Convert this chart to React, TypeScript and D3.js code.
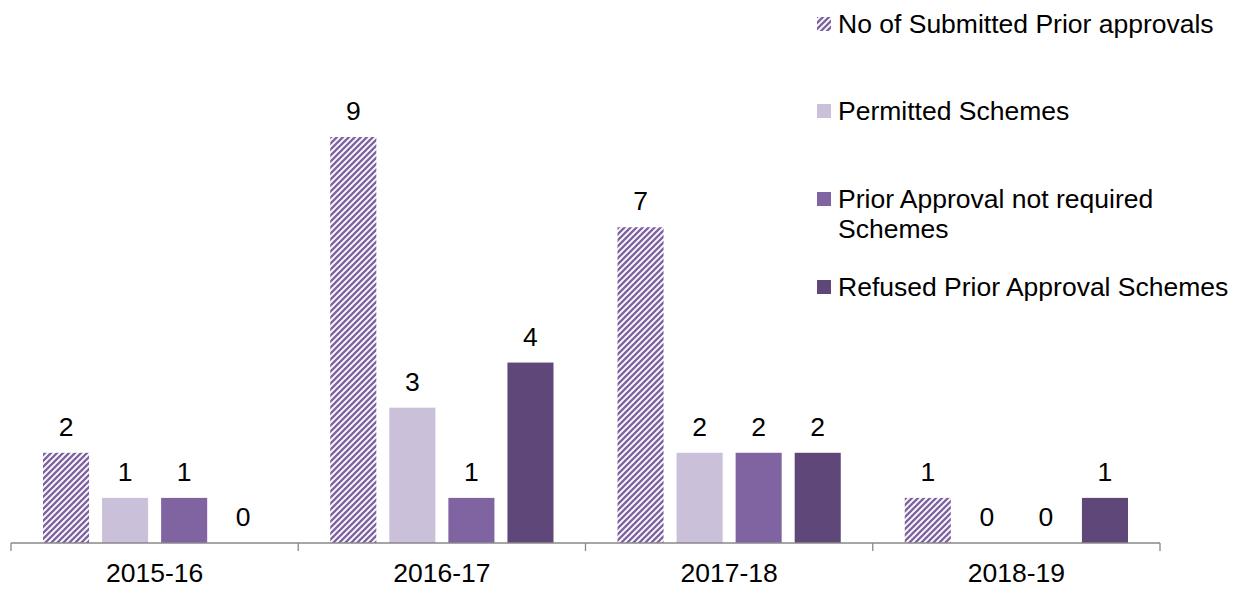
import React, { useRef, useEffect } from "react";
import * as d3 from "d3";

const categories = ["2015-16", "2016-17", "2017-18", "2018-19"];
const seriesNames = [
  "No of Submitted Prior approvals",
  "Permitted Schemes",
  "Prior Approval not required Schemes",
  "Refused Prior Approval Schemes",
];
const submitted = [2, 9, 7, 1];
const permitted = [1, 3, 2, 0];
const notRequired = [1, 1, 2, 0];
const refused = [0, 4, 2, 1];

const seriesValues = [submitted, permitted, notRequired, refused];
const colors = ["url(#hatch)", "#CBC0DA", "#8064A2", "#5F4879"];

const App: React.FC = () => {
  const svgRef = useRef<SVGSVGElement | null>(null);

  useEffect(() => {
    const width = 1247;
    const height = 593;
    const svg = d3.select(svgRef.current);
    svg.selectAll("*").remove();
    svg.attr("width", width).attr("height", height);

    const font = "'Liberation Sans', Arial, sans-serif";
    const fs = "26.5px";

    // hatch pattern
    const defs = svg.append("defs");
    const pat = defs
      .append("pattern")
      .attr("id", "hatch")
      .attr("patternUnits", "userSpaceOnUse")
      .attr("width", 6)
      .attr("height", 6);
    pat.append("rect").attr("width", 6).attr("height", 6).attr("fill", "#fff");
    pat
      .append("path")
      .attr("d", "M-1,1 L1,-1 M0,6 L6,0 M5,7 L7,5")
      .attr("stroke", "#8064A2")
      .attr("stroke-width", 2.4);

    const x0 = d3.scaleBand().domain(categories).range([11, 1160]).paddingInner(0).paddingOuter(0);
    const x1 = d3
      .scaleBand()
      .domain(seriesNames)
      .range([32, x0.bandwidth() - 32])
      .paddingInner(0.22);
    const y = d3.scaleLinear().domain([0, 9]).range([543, 137]);

    const g = svg.append("g");

    categories.forEach((cat, ci) => {
      seriesNames.forEach((s, si) => {
        const v = seriesValues[si][ci];
        const bx = x0(cat)! + x1(s)!;
        if (v > 0) {
          g.append("rect")
            .attr("x", bx)
            .attr("y", y(v))
            .attr("width", x1.bandwidth())
            .attr("height", y(0) - y(v))
            .attr("fill", colors[si]);
        }
        g.append("text")
          .attr("x", bx + x1.bandwidth() / 2)
          .attr("y", y(v) - 17)
          .attr("text-anchor", "middle")
          .style("font-family", font)
          .style("font-size", fs)
          .style("fill", "#000")
          .text(v);
      });
    });

    // axis
    const axis = svg.append("g").attr("transform", `translate(0,${y(0)})`);
    axis
      .append("line")
      .attr("x1", 11)
      .attr("x2", 1160)
      .attr("stroke", "#898989")
      .attr("stroke-width", 1.3);
    const ticks = [...categories.map((c) => x0(c)!), 1160];
    ticks.forEach((t) => {
      axis
        .append("line")
        .attr("x1", t)
        .attr("x2", t)
        .attr("y1", 0)
        .attr("y2", 8)
        .attr("stroke", "#898989")
        .attr("stroke-width", 1.3);
    });
    categories.forEach((c) => {
      axis
        .append("text")
        .attr("x", x0(c)! + x0.bandwidth() / 2)
        .attr("y", 39)
        .attr("text-anchor", "middle")
        .style("font-family", font)
        .style("font-size", fs)
        .style("fill", "#000")
        .text(c);
    });

    // legend
    const legendItems = [
      { lines: ["No of Submitted Prior approvals"], y: 24 },
      { lines: ["Permitted Schemes"], y: 111 },
      { lines: ["Prior Approval not required", "Schemes"], y: 199 },
      { lines: ["Refused Prior Approval Schemes"], y: 287 },
    ];
    legendItems.forEach((item, i) => {
      const lg = svg.append("g");
      lg.append("rect")
        .attr("x", 817)
        .attr("y", item.y - 7)
        .attr("width", 14)
        .attr("height", 14)
        .attr("fill", colors[i]);
      item.lines.forEach((ln, li) => {
        lg.append("text")
          .attr("x", 838)
          .attr("y", item.y + 9 + li * 30)
          .style("font-family", font)
          .style("font-size", fs)
          .style("fill", "#000")
          .text(ln);
      });
    });
  }, []);

  return <svg ref={svgRef} style={{ position: "absolute", left: 0, top: 0 }}></svg>;
};

export default App;
